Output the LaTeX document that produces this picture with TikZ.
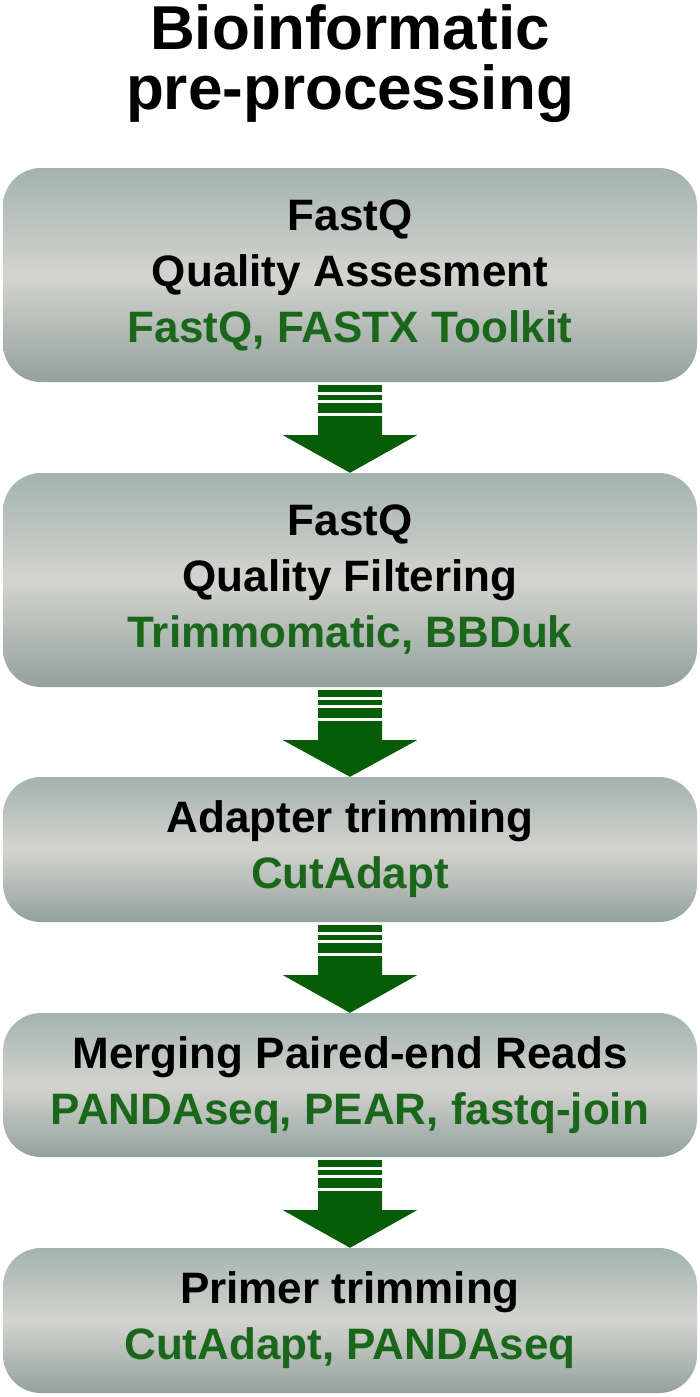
\documentclass[tikz,border=0pt]{standalone}
\usepackage{fontspec}
\setmainfont{Liberation Sans}
\usetikzlibrary{calc}
\definecolor{toolgreen}{HTML}{1A661A}
\definecolor{arrowgreen}{HTML}{075C07}
\definecolor{boxedge}{HTML}{A3B3AF}
\definecolor{boxmid}{HTML}{D4D4CF}
\tikzset{
  stepbox/.style={rounded corners=38pt, minimum width=694pt, inner sep=0pt,
    top color=boxedge, bottom color=boxedge!90!black, middle color=boxmid,
    align=center, font=\fontsize{44}{56}\selectfont\bfseries},
  tool/.style={text=toolgreen},
}
% striped block arrow from the bottom of one box to the top of the next
\newcommand{\blockarrow}[2]{%
  \fill[arrowgreen] ($(#1.south)+(-32,3)$) rectangle ($(#1.south)+(32,10)$);
  \fill[arrowgreen] ($(#1.south)+(-32,13)$) rectangle ($(#1.south)+(32,18)$);
  \fill[arrowgreen] ($(#1.south)+(-32,21)$) rectangle ($(#1.south)+(32,31)$);
  \fill[arrowgreen] ($(#1.south)+(-32,34)$) -- ($(#1.south)+(32,34)$)
    -- ($(#1.south)+(32,53)$) -- ($(#1.south)+(67,53)$) -- (#2.north)
    -- ($(#1.south)+(-67,53)$) -- ($(#1.south)+(-32,53)$) -- cycle;
}

\begin{document}
\begin{tikzpicture}[x=1pt,y=-1pt]
\useasboundingbox (0,0) rectangle (700,1397);
\node[font=\fontsize{62}{60}\selectfont\bfseries, align=center] (title) at (350,64) {Bioinformatic\\pre-processing};

\node[stepbox, minimum height=214pt] (qa) at (350,275)
  {FastQ\\Quality Assesment\\\textcolor{toolgreen}{FastQ, FASTX Toolkit}};
\node[stepbox, minimum height=214pt] (qf) at (350,580)
  {FastQ\\Quality Filtering\\\textcolor{toolgreen}{Trimmomatic, BBDuk}};
\node[stepbox, minimum height=145pt] (adapt) at (350,849.5)
  {Adapter trimming\\\textcolor{toolgreen}{CutAdapt}};
\node[stepbox, minimum height=144pt] (merge) at (350,1085)
  {Merging Paired-end Reads\\\textcolor{toolgreen}{PANDAseq, PEAR, fastq-join}};
\node[stepbox, minimum height=145pt] (primer) at (350,1320.5)
  {Primer trimming\\\textcolor{toolgreen}{CutAdapt, PANDAseq}};

\blockarrow{qa}{qf}
\blockarrow{qf}{adapt}
\blockarrow{adapt}{merge}
\blockarrow{merge}{primer}
\end{tikzpicture}
\end{document}
